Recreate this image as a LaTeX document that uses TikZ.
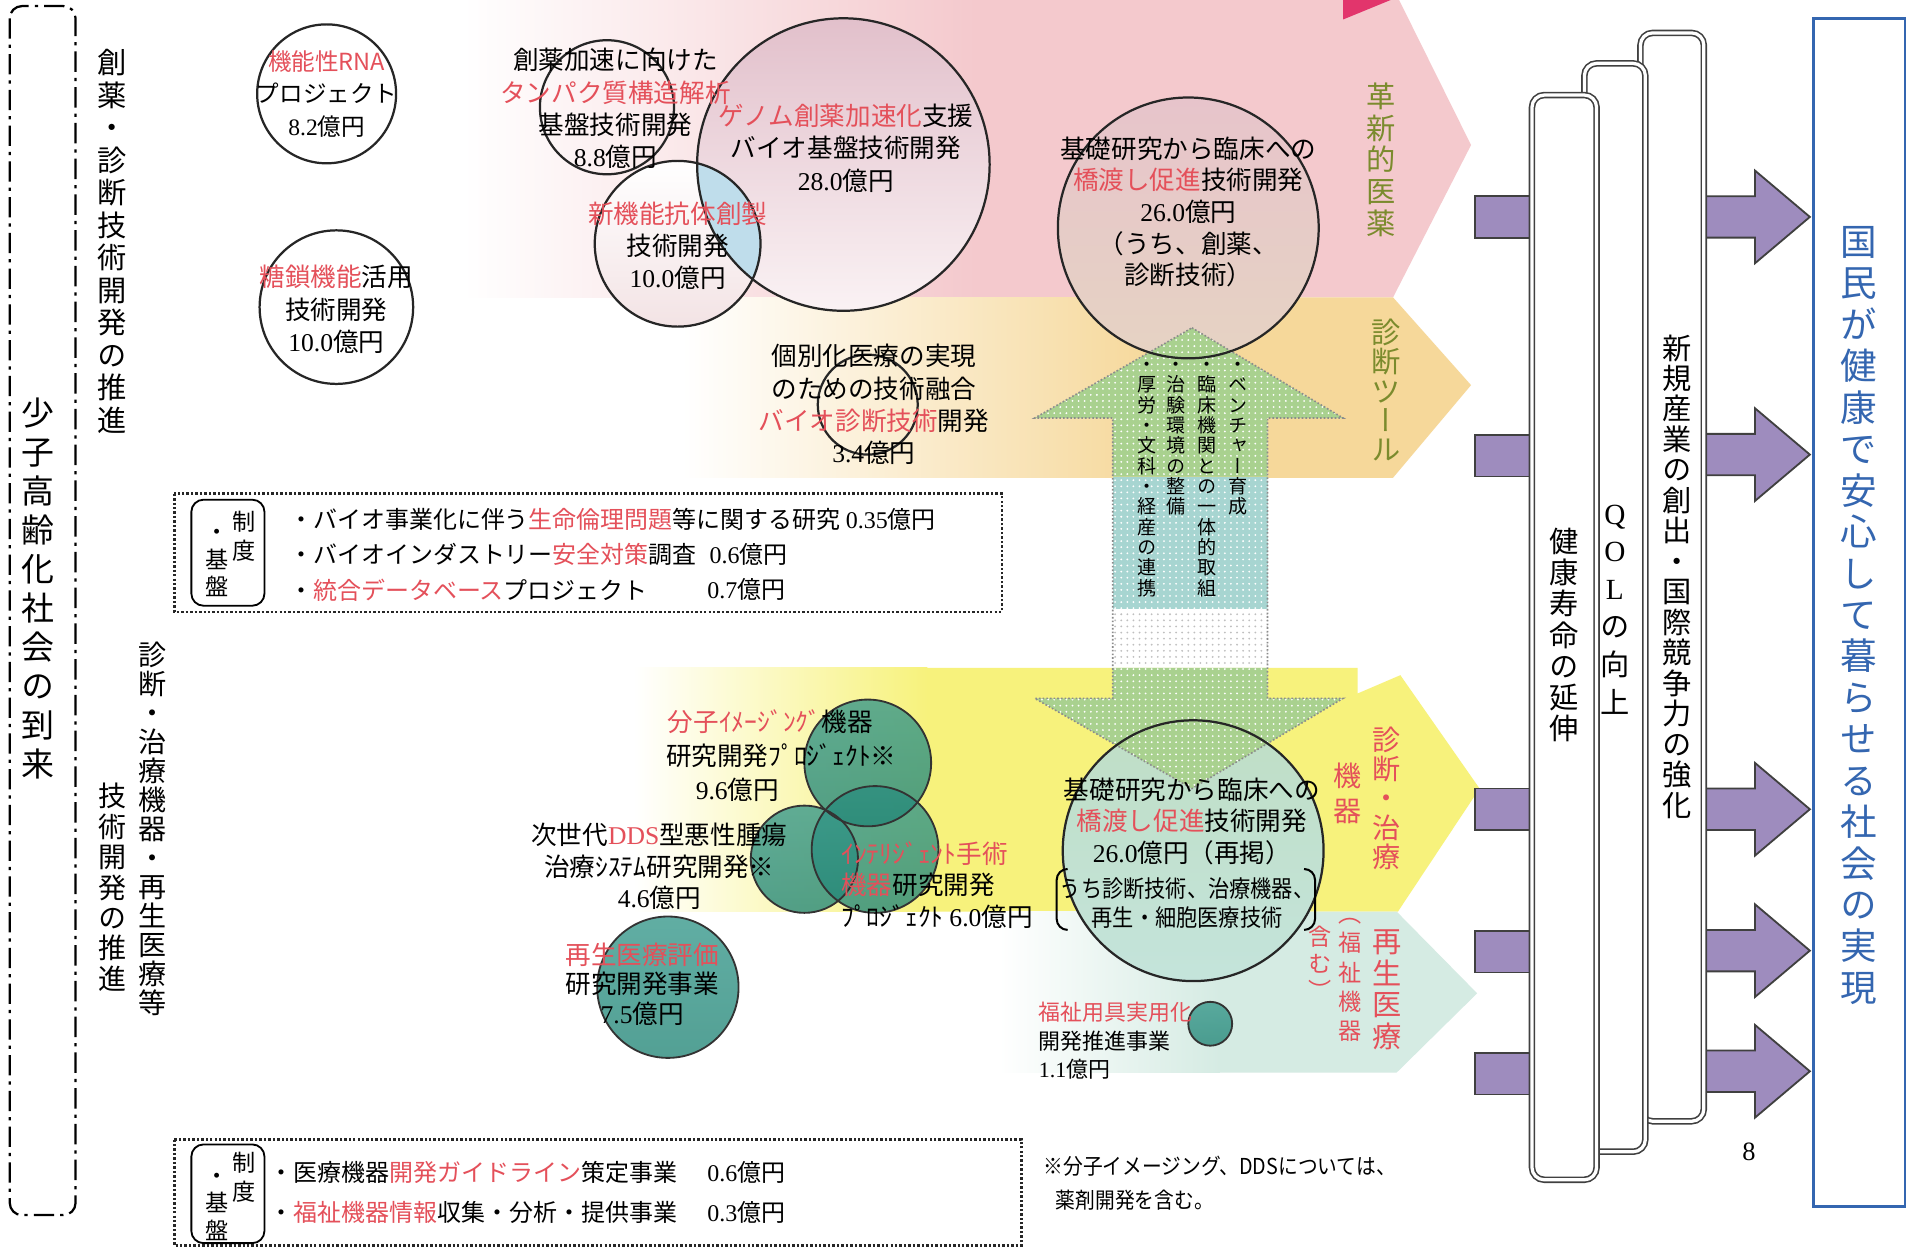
\documentclass[tikz,border=0pt]{standalone}
\usepackage{fontspec}
\setmainfont{Noto Sans CJK JP}
\newfontfamily\numf{Liberation Serif}
\newfontfamily\vfont[RawFeature=+vert]{Noto Sans CJK JP}
\newfontfamily\condf[FakeStretch=0.9]{Noto Sans CJK JP}
\usetikzlibrary{patterns}
\definecolor{pinkband}{HTML}{F4C9CD}
\definecolor{orangeband}{HTML}{F6D89A}
\definecolor{yellowband}{HTML}{F7F27C}
\definecolor{mintband}{HTML}{D5EBE3}
\definecolor{agreen}{HTML}{A9D18F}
\definecolor{ateal}{HTML}{A7D5D1}
\definecolor{purp}{HTML}{9E8CBE}
\definecolor{blue1}{HTML}{3466B0}
\definecolor{olive}{HTML}{7B8B2D}
\definecolor{jred}{HTML}{E4505A}
\definecolor{magen}{HTML}{E2356C}
\definecolor{tealA}{HTML}{35978A}
\definecolor{tealB}{HTML}{8CCDBE}
\definecolor{tealC}{HTML}{238677}
\definecolor{c4top}{HTML}{E2C0CB}
\definecolor{c4bot}{HTML}{FAF2F4}
\definecolor{c7top}{HTML}{E7C4CB}
\definecolor{c7bot}{HTML}{E6D3C3}
\definecolor{c8top}{HTML}{BFDEC5}
\definecolor{c8bot}{HTML}{C4E4DB}
\definecolor{lblue}{HTML}{BFDDEB}
\newcommand\rd[1]{\textcolor{jred}{#1}}
\newcommand\nm[1]{{\numf #1}}
\ExplSyntaxOn
\NewDocumentCommand\vt{m}{
  \bool_set_true:N \l_tmpa_bool
  \tl_map_inline:nn {#1}
    {
      \bool_if:NTF \l_tmpa_bool
        { \bool_set_false:N \l_tmpa_bool }
        { \\ }
      {##1}
    }
}
\ExplSyntaxOff
\tikzset{
  jt/.style={inner sep=0pt, align=center, font=\fontsize{12.6}{15.9}\selectfont},
  jl/.style={inner sep=0pt, align=left, font=\fontsize{12.6}{15.6}\selectfont},
  boxt/.style={inner sep=0pt, anchor=west, font=\fontsize{11.8}{15}\selectfont},
  ring/.style={draw=black!85, line width=1.1pt},
  bubring/.style={draw=black!80, line width=0.9pt},
  bub/.style={top color=tealA, middle color=tealB, bottom color=tealC, opacity=0.78},
  pillar/.style={draw=black!75, double=white, double distance=1.6pt, line width=0.8pt, rounded corners=6pt, fill=white},
  parr/.style={fill=purp, draw=black!75, line width=0.9pt},
  dotbox/.style={densely dotted, line width=1.2pt, draw=black!85},
  vlab/.style={inner sep=0pt, align=center}
}
\begin{document}
\begin{tikzpicture}[x=0.6pt,y=-0.6pt]
\useasboundingbox (0,0) rectangle (1568,1024);
\fill[white] (0,0) rectangle (1568,1024);

% ---------- bands ----------
\fill[pinkband] (800,-10) -- (1143,-10) -- (1207,119) -- (1143,244) -- (800,244) -- cycle;
\shade[left color=white, right color=pinkband] (380,-10) rectangle (801,244);
\fill[orangeband] (950,244) -- (1143,244) -- (1207,316) -- (1143,392) -- (950,392) -- cycle;
\shade[left color=white, right color=orangeband] (560,244) rectangle (951,392);
\fill[yellowband] (760,548) -- (1114,548) -- (1114,569) -- (1149,554) -- (1214,647) -- (1147,748) -- (760,748) -- cycle;
\shade[left color=white, right color=yellowband] (520,548) rectangle (761,748);
\fill[mintband] (1000,748) -- (1146,748) -- (1212,815) -- (1146,880) -- (1000,880) -- cycle;
\shade[left color=white, right color=mintband] (820,748) rectangle (1001,880);
\fill[magen] (1102,0) -- (1141,0) -- (1102,16) -- cycle;

% ---------- bridge circles fills ----------
\shade[top color=c7top, middle color=white, bottom color=c7bot] (975,187) circle (107);
\shade[top color=c8top, middle color=white, bottom color=c8bot] (979,698) circle (107);

% ---------- double arrow ----------
\fill[agreen, postaction={pattern=dots, pattern color=white}] (978,269) -- (1102,343) -- (1040,343) -- (1040,391) -- (913,391) -- (913,343) -- (849,343) -- cycle;
\fill[ateal, postaction={pattern=dots, pattern color=white}] (913,391) rectangle (1040,500);
\fill[pattern=dots, pattern color=black!25] (913,500) rectangle (1040,548);
\fill[agreen, postaction={pattern=dots, pattern color=white}] (913,548) -- (1040,548) -- (1040,573) -- (1102,573) -- (978,647) -- (849,573) -- (913,573) -- cycle;
\draw[densely dotted, black!45, line width=0.8pt] (978,269) -- (1102,343) -- (1040,343) -- (1040,573) -- (1102,573) -- (978,647) -- (849,573) -- (913,573) -- (913,343) -- (849,343) -- cycle;

\draw[ring] (975,187) circle (107);
\draw[ring] (979,698) circle (107);

% ---------- upper circles ----------
\shade[top color=c4top, bottom color=c4bot] (692,135) circle (120);
\shade[top color=white, bottom color=black!8!pinkband!40] (556,200) circle (68);
\begin{scope}
  \clip (692,135) circle (120);
  \fill[lblue] (556,200) circle (68);
\end{scope}
\draw[ring] (692,135) circle (120);
\draw[ring] (556,200) circle (68);
\draw[ring] (498,88) circle (55);
\draw[ring] (268,77) circle (57);
\draw[ring] (276,252) circle (63);
\draw[ring] (712,332) circle (41);

% ---------- green bubbles ----------
\shade[bub] (660,705) circle (44);
\shade[bub] (718,697) circle (52);
\shade[bub] (712,626) circle (52);
\shade[bub] (548,810) circle (58);
\shade[bub] (993,840) circle (18);
\draw[bubring] (660,705) circle (44);
\draw[bubring] (718,697) circle (52);
\draw[bubring] (712,626) circle (52);
\draw[bubring] (548,810) circle (58);
\draw[bubring] (993,840) circle (18);

% ---------- circle texts ----------
\node[jt, font=\fontsize{11.6}{15.9}\selectfont] (rna) at (268,77) {\rd{機能性RNA}\\プロジェクト\\\nm{8.2}億円};
\node[jt] (tosa) at (276,254) {\rd{糖鎖機能}活用\\技術開発\\\nm{10.0}億円};
\node[jt] (tanp) at (505,89) {創薬加速に向けた\\\rd{タンパク質構造解析}\\基盤技術開発\\\nm{8.8}億円};
\node[jt] (genome) at (694,121.5) {\rd{ゲノム創薬加速化}支援\\バイオ基盤技術開発\\\nm{28.0}億円};
\node[jt] (kotai) at (556,201.5) {\rd{新機能抗体創製}\\技術開発\\\nm{10.0}億円};
\node[jt] (kobetsu) at (717,332) {個別化医療の実現\\のための技術融合\\\rd{バイオ診断技術}開発\\\nm{3.4}億円};
\node[jt, font=\fontsize{12.6}{15.6}\selectfont] (hashiA) at (975,174) {基礎研究から臨床への\\\rd{橋渡し促進}技術開発\\\nm{26.0}億円\\（うち、創薬、\\診断技術）};
\node[jt, font=\fontsize{12.6}{15.6}\selectfont] (hashiB) at (978,674) {基礎研究から臨床への\\\rd{橋渡し促進}技術開発\\\nm{26.0}億円（再掲）};
\node[jt, font=\condf\fontsize{11.6}{14.4}\selectfont] (hashiC) at (974,741) {うち診断技術、治療機器、\\再生・細胞医療技術};
\draw[line width=1pt] (876,713) to[out=180,in=90] (867,722) -- (867,754) to[out=-90,in=180] (876,763);
\draw[line width=1pt] (1070,713) to[out=0,in=90] (1079,722) -- (1079,754) to[out=-90,in=0] (1070,763);

\node[jt] (bunshiA) at (632,592) {\rd{分子ｲﾒｰｼﾞﾝｸﾞ}機器};
\node[jt] (bunshiB) at (641,620) {研究開発ﾌﾟﾛｼﾞｪｸﾄ※};
\node[jt] (bunshiC) at (605,648) {\nm{9.6}億円};
\node[jt, font=\fontsize{12.6}{15.6}\selectfont] (dds) at (541,711) {次世代\rd{\nm{DDS}}型悪性腫瘍\\治療ｼｽﾃﾑ研究開発※\\\nm{4.6}億円};
\node[jl, anchor=west] (intel) at (690,726) {\rd{ｲﾝﾃﾘｼﾞｪﾝﾄ手術}\\\rd{機器}研究開発\\ﾌﾟﾛｼﾞｪｸﾄ \nm{6.0}億円};
\node[jt, font=\fontsize{12.6}{14.7}\selectfont] (saisei) at (527,807.5) {\rd{再生医療評価}\\研究開発事業\\\nm{7.5}億円};
\node[jl, anchor=west, font=\fontsize{10.8}{14}\selectfont] (fukushi) at (852,854) {\rd{福祉用具実用化}\\開発推進事業\\\nm{1.1}億円};

% ---------- double-arrow texts ----------
\node[vlab, anchor=north, font=\vfont\fontsize{9.4}{10}\selectfont] (ua1) at (1016,297) {\vt{・ベンチャー育成}};
\node[vlab, anchor=north, font=\vfont\fontsize{9.4}{10}\selectfont] (ua2) at (990,297) {\vt{・臨床機関との一体的取組}};
\node[vlab, anchor=north, font=\vfont\fontsize{9.4}{10}\selectfont] (ua3) at (965,297) {\vt{・治験環境の整備}};
\node[vlab, anchor=north, font=\vfont\fontsize{9.4}{10}\selectfont] (ua4) at (941,297) {\vt{・厚労・文科・経産の連携}};

% ---------- band labels ----------
\node[vlab, text=olive, font=\vfont\fontsize{14.4}{15.6}\selectfont] (kakushin) at (1133,131) {\vt{革新的医薬}};
\node[vlab, text=olive, font=\vfont\fontsize{14.4}{14.4}\selectfont] (tool) at (1137,320) {\vt{診断ツール}};
\node[vlab, text=jred, font=\vfont\fontsize{13.8}{14.4}\selectfont] (chiryo) at (1138,655) {\vt{診断・治療}};
\node[vlab, text=jred, font=\vfont\fontsize{13.8}{16.8}\selectfont] (kiki) at (1106,651) {\vt{機器}};
\node[vlab, text=jred, font=\vfont\fontsize{14.4}{15.6}\selectfont] (saiseiL) at (1138,812) {\vt{再生医療}};
\node[vlab, text=jred, font=\vfont\fontsize{11.4}{14.4}\selectfont] (fukuA) at (1108,804) {\vt{（福祉機器}};
\node[vlab, text=jred, font=\vfont\fontsize{11.4}{13.2}\selectfont] (fukuB) at (1083,790) {\vt{含む）}};

% ---------- left labels ----------
\draw[dash pattern=on 10pt off 3pt on 1.6pt off 3pt, line width=1.1pt, rounded corners=6pt] (8,5) rectangle (62,997);
\node[vlab, font=\vfont\fontsize{16.2}{19.2}\selectfont] (shoshi) at (31,483) {\vt{少子高齢化社会の到来}};
\node[vlab, font=\vfont\fontsize{14.4}{16}\selectfont] (soyaku) at (92,198) {\vt{創薬・診断技術開発の推進}};
\node[vlab, font=\vfont\fontsize{13.8}{14.3}\selectfont] (shindan) at (125,680) {\vt{診断・治療機器・再生医療等}};
\node[vlab, font=\vfont\fontsize{13.8}{15}\selectfont] (gijutsu) at (92,728) {\vt{技術開発の推進}};

% ---------- institutional boxes ----------
\draw[dotbox] (143,405) rectangle (822,502);
\draw[line width=0.9pt, rounded corners=6pt] (157,410) rectangle (217,497);
\node[vlab, font=\vfont\fontsize{11.4}{14}\selectfont] (seidoA) at (200,440) {\vt{制度}};
\node[vlab, font=\vfont\fontsize{11.4}{13.5}\selectfont] (kibanA) at (178,462) {\vt{・基盤}};
\node[boxt] (b1a) at (237,426) {・バイオ事業化に伴う\rd{生命倫理問題}等に関する研究 \nm{0.35}億円};
\node[boxt] (b1b) at (237,455) {・バイオインダストリー\rd{安全対策}調査};
\node[boxt] (b1bv) at (582,455) {\nm{0.6}億円};
\node[boxt] (b1c) at (237,484) {・\rd{統合データベース}プロジェクト};
\node[boxt] (b1cv) at (580,484) {\nm{0.7}億円};

\draw[dotbox] (143,935) rectangle (838,1022);
\draw[line width=0.9pt, rounded corners=6pt] (157,939) rectangle (217,1020);
\node[vlab, font=\vfont\fontsize{11.4}{14}\selectfont] (seidoB) at (200,966) {\vt{制度}};
\node[vlab, font=\vfont\fontsize{11.4}{13.5}\selectfont] (kibanB) at (178,990) {\vt{・基盤}};
\node[boxt] (b2a) at (221,962) {・医療機器\rd{開発ガイドライン}策定事業};
\node[boxt] (b2av) at (580,962) {\nm{0.6}億円};
\node[boxt] (b2b) at (221,995) {・\rd{福祉機器情報}収集・分析・提供事業};
\node[boxt] (b2bv) at (580,995) {\nm{0.3}億円};

\node[boxt, font=\condf\fontsize{10.8}{13}\selectfont] (noteA) at (856,957) {※分子イメージング、DDSについては、};
\node[boxt, font=\condf\fontsize{10.8}{13}\selectfont] (noteB) at (866,985) {薬剤開発を含む。};
\node[inner sep=0pt, font=\numf\fontsize{13}{13}\selectfont] (page) at (1435,945) {8};

% ---------- right structure ----------
\foreach \yy in {178,374,664,781,881} {
  \draw[parr] (1210,\yy-17) rectangle (1262,\yy+17);
}
\foreach \yy in {178,373,664,780,879} {
  \draw[parr] (1392,\yy-17) -- (1440,\yy-17) -- (1440,\yy-38) -- (1485,\yy) -- (1440,\yy+38) -- (1440,\yy+17) -- (1392,\yy+17) -- cycle;
}
\draw[pillar] (1346,27) rectangle (1398,920);
\draw[pillar] (1300,52) rectangle (1350,945);
\draw[pillar] (1257,78) rectangle (1310,968);
\node[vlab, font=\vfont\fontsize{14.4}{15.4}\selectfont] (kenko) at (1283,521) {\vt{健康寿命の延伸}};
\node[vlab, font=\vfont\fontsize{14.4}{18.6}\selectfont] (qol) at (1325,500) {\vt{{\numf Q}{\numf O}{\numf L}の向上}};
\node[vlab, font=\vfont\fontsize{14.4}{15}\selectfont] (shinki) at (1376,473) {\vt{新規産業の創出・国際競争力の強化}};

\draw[blue1, line width=1.3pt] (1488,15) rectangle (1563,990);
\node[vlab, text=blue1, font=\vfont\fontsize{18}{20.4}\selectfont] (kokumin) at (1525,505) {\vt{国民が健康で安心して暮らせる社会の実現}};
\end{tikzpicture}
\end{document}
